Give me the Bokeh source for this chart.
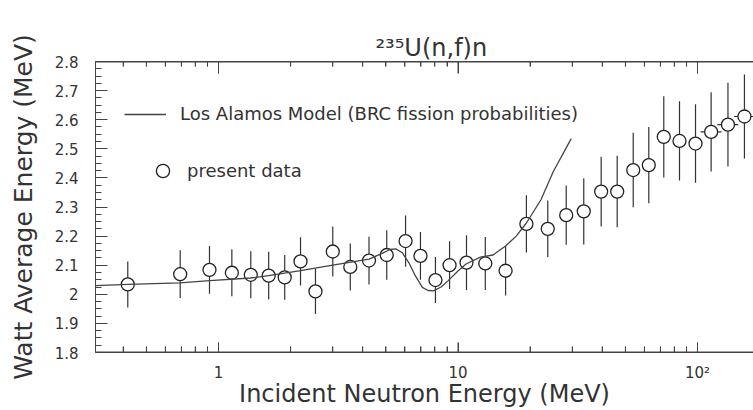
import numpy as np
from bokeh.plotting import figure
from bokeh.models import (Range1d, LogAxis, FixedTicker, SingleIntervalTicker,
                          CustomJSTickFormatter, Legend, LegendItem,
                          ColumnDataSource)
from bokeh.embed import file_html
from bokeh.resources import INLINE

# Measured mean (Watt) energy of prompt fission neutrons, 235U(n,f)
energy = [0.418, 0.692, 0.917, 1.137, 1.364, 1.62, 1.89, 2.2, 2.54, 3.0,
          3.55, 4.25, 5.04, 6.04, 6.97, 8.05, 9.22, 10.85, 13.0, 15.8,
          19.3, 23.7, 28.3, 33.5, 39.6, 46.2, 53.9, 62.6, 72.3, 84.1,
          98.1, 114.0, 134.0, 157.0]
watt_avg = [2.034, 2.069, 2.084, 2.074, 2.067, 2.064, 2.058, 2.113, 2.010, 2.147,
            2.094, 2.116, 2.135, 2.183, 2.132, 2.049, 2.100, 2.109, 2.106, 2.081,
            2.242, 2.225, 2.272, 2.285, 2.353, 2.353, 2.427, 2.444, 2.541, 2.527,
            2.518, 2.558, 2.583, 2.611]
watt_err = [0.079, 0.082, 0.082, 0.081, 0.081, 0.082, 0.077, 0.083, 0.078, 0.086,
            0.081, 0.082, 0.085, 0.088, 0.082, 0.079, 0.082, 0.094, 0.091, 0.085,
            0.098, 0.097, 0.102, 0.114, 0.120, 0.123, 0.128, 0.131, 0.140, 0.136,
            0.135, 0.136, 0.144, 0.144]

# Energy-bin extent of the highest-energy points
bin_energy_lo = [103.0, 121.0, 142.0]
bin_energy_hi = [126.0, 148.0, 174.0]
bin_watt = [2.558, 2.583, 2.611]

# Los Alamos model curve (BRC fission probabilities)
model_energy = [0.306, 0.42, 0.69, 0.92, 1.36, 1.62, 2.2, 3.0, 4.25, 4.8,
                5.2, 5.5, 5.85, 6.23, 6.63, 7.1, 7.5, 7.9, 8.5, 9.1,
                10.0, 10.8, 12.4, 14.0, 15.8, 17.5, 19.3, 22.2, 25.0, 29.7]
model_watt = [2.030, 2.034, 2.039, 2.047, 2.056, 2.064, 2.081, 2.100, 2.121, 2.140,
              2.154, 2.156, 2.143, 2.109, 2.064, 2.024, 2.013, 2.012, 2.025, 2.047,
              2.080, 2.104, 2.128, 2.135, 2.166, 2.200, 2.245, 2.325, 2.422, 2.535]

x_major = [1, 10, 100]
x_minor = [m * 10.0 ** k for k in (-1, 0, 1, 2) for m in range(2, 10)
           if 0.31 < m * 10.0 ** k < 170]

FONT = "DejaVu Sans"
TXT = "#333333"
AX = "#444444"

e = np.array(energy)
w = np.array(watt_avg)
err = np.array(watt_err)
src = ColumnDataSource(dict(energy=e, watt=w, lo=w - err, hi=w + err))

x_lo, x_hi = 0.3065, 171.3
y_lo, y_hi = 1.8, 2.80001
H, B_TOP, B_BOT = 410, 61, 56
p = figure(width=753, height=H, x_axis_type="log",
           x_range=Range1d(x_lo, x_hi), y_range=Range1d(y_lo, y_hi),
           output_backend="svg", toolbar_location=None,
           min_border_left=95, min_border_right=0,
           min_border_top=B_TOP, min_border_bottom=B_BOT,
           outline_line_color=None,
           border_fill_color=None, background_fill_color=None)
p.grid.visible = False

p.title.text = "\u00b2\u00b3\u2075U(n,f)n"
p.title.align = "left"
p.title.offset = 280
p.title.standoff = 0
p.title.text_font = FONT
p.title.text_font_size = "24px"
p.title.text_font_style = "normal"
p.title.text_color = TXT

xa = p.xaxis[0]
xa.ticker = FixedTicker(ticks=x_major, minor_ticks=x_minor)
xa.formatter = CustomJSTickFormatter(
    code="return tick >= 100 ? '10\u00b2' : String(Math.round(tick));")
xa.axis_label = "Incident Neutron Energy (MeV)"
xa.axis_label_text_font = FONT
xa.axis_label_text_font_size = "24px"
xa.axis_label_text_font_style = "normal"
xa.axis_label_text_color = TXT
xa.axis_label_standoff = -5
xa.major_label_text_font = FONT
xa.major_label_text_font_size = "15px"
xa.major_label_text_color = TXT
xa.major_label_standoff = 11
xa.major_tick_in = 10
xa.major_tick_out = 0
xa.minor_tick_in = 6
xa.minor_tick_out = 0
xa.axis_line_color = AX
xa.major_tick_line_color = AX
xa.minor_tick_line_color = AX

# mirrored ticks along the top edge (labels kept for spacing, not drawn)
top = LogAxis(ticker=FixedTicker(ticks=x_major, minor_ticks=x_minor))
top.major_tick_in = 12
top.major_tick_out = 0
top.minor_tick_in = 5
top.minor_tick_out = 0
top.major_label_text_font_size = "10px"
top.major_label_text_color = None
top.axis_line_color = AX
top.major_tick_line_color = AX
top.minor_tick_line_color = AX
p.add_layout(top, "above")

ya = p.yaxis[0]
ya.ticker = SingleIntervalTicker(interval=0.1, num_minor_ticks=4)
ya.formatter = CustomJSTickFormatter(
    code="const v = Math.round(tick * 10) / 10; return v === 2 ? '2' : v.toFixed(1);")
ya.axis_label = "Watt Average Energy (MeV)"
ya.axis_label_text_font = FONT
ya.axis_label_text_font_size = "25px"
ya.axis_label_text_font_style = "normal"
ya.axis_label_text_color = TXT
ya.axis_label_standoff = 14
ya.major_label_text_font = FONT
ya.major_label_text_font_size = "15px"
ya.major_label_text_color = TXT
ya.major_label_standoff = 17
ya.major_tick_in = 12
ya.major_tick_out = 0
ya.minor_tick_in = 6
ya.minor_tick_out = 0
ya.axis_line_color = AX
ya.major_tick_line_color = AX
ya.minor_tick_line_color = AX

# frame edges and tick marks along top and bottom, drawn as plot glyphs
px = (y_hi - y_lo) / (H - B_TOP - B_BOT)   # data units per screen pixel
p.segment(x0=[x_lo, x_lo], y0=[y_lo, y_hi], x1=[x_hi, x_hi], y1=[y_lo, y_hi],
          line_color=AX, line_width=2)
p.segment(x0=x_major, y0=[y_lo] * len(x_major), x1=x_major,
          y1=[y_lo + 10 * px] * len(x_major), line_color=AX, line_width=1)
p.segment(x0=x_minor, y0=[y_lo] * len(x_minor), x1=x_minor,
          y1=[y_lo + 6 * px] * len(x_minor), line_color=AX, line_width=1)
p.segment(x0=x_major, y0=[y_hi] * len(x_major), x1=x_major,
          y1=[y_hi - 12 * px] * len(x_major), line_color=AX, line_width=1)
p.segment(x0=x_minor, y0=[y_hi] * len(x_minor), x1=x_minor,
          y1=[y_hi - 5 * px] * len(x_minor), line_color=AX, line_width=1)

# error bars, data points, model curve
p.segment(x0="energy", y0="lo", x1="energy", y1="hi", source=src,
          line_color="#333333", line_width=1.2)
p.segment(x0=bin_energy_lo, y0=bin_watt, x1=bin_energy_hi, y1=bin_watt,
          line_color="#333333", line_width=1.2)
pts = p.scatter(x="energy", y="watt", source=src, marker="circle", size=13,
                fill_color="white", line_color="#222222", line_width=1.3)
model = p.line(model_energy, model_watt, line_color="#444444", line_width=1.3)

leg_model = Legend(items=[LegendItem(label="Los Alamos Model (BRC fission probabilities)",
                                     renderers=[model])],
                   location=(29, 228), glyph_width=42, glyph_height=20,
                   label_height=20, label_standoff=14, padding=0, margin=0,
                   border_line_color=None, background_fill_alpha=0,
                   label_text_font=FONT, label_text_font_size="18px",
                   label_text_color=TXT)
leg_data = Legend(items=[LegendItem(label="present data", renderers=[pts])],
                  location=(51, 165), glyph_width=33, glyph_height=33,
                  label_height=20, label_standoff=8, padding=0, margin=0,
                  border_line_color=None, background_fill_alpha=0,
                  label_text_font=FONT, label_text_font_size="18px",
                  label_text_color=TXT)
p.add_layout(leg_model)
p.add_layout(leg_data)

open("out.html", "w").write(file_html(p, INLINE))
